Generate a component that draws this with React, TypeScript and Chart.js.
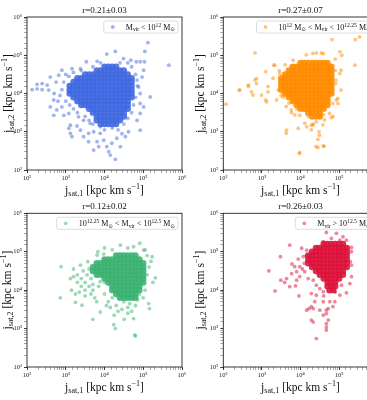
import React, { useEffect, useRef } from "react";
import { Chart, registerables } from "chart.js";

Chart.register(...registerables);

const FONT = "'Liberation Serif', 'DejaVu Serif', serif";

const axisMin = 1e2;
const axisMax = 1e6;

const panelTitles = ["r=0.21±0.03", "r=0.27±0.07", "r=0.12±0.02", "r=0.26±0.03"];
const seriesColors = ["65,105,225", "255,140,0", "60,179,113", "220,20,60"];

type Seg = [string, number]; // 0 normal, 1 superscript, -1 subscript
const legendLabels: Seg[][] = [
  [["M", 0], ["vir", -1], [" < 10", 0], ["12", 1], [" M", 0], ["⊙", -1]],
  [["10", 0], ["12", 1], [" M", 0], ["⊙", -1], [" < M", 0], ["vir", -1], [" < 10", 0], ["12.25", 1], [" M", 0], ["⊙", -1]],
  [["10", 0], ["12.25", 1], [" M", 0], ["⊙", -1], [" < M", 0], ["vir", -1], [" < 10", 0], ["12.5", 1], [" M", 0], ["⊙", -1]],
  [["M", 0], ["vir", -1], [" > 10", 0], ["12.5", 1], [" M", 0], ["⊙", -1]],
];
const xTitle: Seg[] = [["j", 0], ["sat,1", -1], [" [kpc km s", 0], ["−1", 1], ["]", 0]];
const yTitle: Seg[] = [["j", 0], ["sat,2", -1], [" [kpc km s", 0], ["−1", 1], ["]", 0]];

// ---- data (log10 of j values) ----
type Row = [number, number[]];

const blueCoreLog: Row[] = [
  [4.7, [4.0, 4.1, 4.2, 4.3]],
  [4.6, [3.8, 3.9, 4.0, 4.1, 4.2, 4.3, 4.4, 4.5]],
  [4.5, [3.5, 3.6, 3.7, 3.8, 3.9, 4.0, 4.1, 4.2, 4.3, 4.4, 4.5, 4.6]],
  [4.4, [3.3, 3.4, 3.5, 3.6, 3.7, 3.8, 3.9, 4.0, 4.1, 4.2, 4.3, 4.4, 4.5, 4.6, 4.7]],
  [4.3, [3.2, 3.3, 3.4, 3.5, 3.6, 3.7, 3.8, 3.9, 4.0, 4.1, 4.2, 4.3, 4.4, 4.5, 4.6, 4.7]],
  [4.2, [3.1, 3.2, 3.3, 3.4, 3.5, 3.6, 3.7, 3.8, 3.9, 4.0, 4.1, 4.2, 4.3, 4.4, 4.5, 4.6, 4.7]],
  [4.1, [3.1, 3.2, 3.3, 3.4, 3.5, 3.6, 3.7, 3.8, 3.9, 4.0, 4.1, 4.2, 4.3, 4.4, 4.5, 4.6, 4.7]],
  [4.0, [3.1, 3.2, 3.3, 3.4, 3.5, 3.6, 3.7, 3.8, 3.9, 4.0, 4.1, 4.2, 4.3, 4.4, 4.5, 4.6, 4.7]],
  [3.9, [3.2, 3.3, 3.4, 3.5, 3.6, 3.7, 3.8, 3.9, 4.0, 4.1, 4.2, 4.3, 4.4, 4.5, 4.6, 4.7]],
  [3.8, [3.3, 3.4, 3.5, 3.6, 3.7, 3.8, 3.9, 4.0, 4.1, 4.2, 4.3, 4.4, 4.5, 4.6]],
  [3.7, [3.4, 3.5, 3.6, 3.7, 3.8, 3.9, 4.0, 4.1, 4.2, 4.3, 4.4, 4.5, 4.6]],
  [3.6, [3.6, 3.7, 3.8, 3.9, 4.0, 4.1, 4.2, 4.3, 4.4, 4.5, 4.6]],
  [3.5, [3.7, 3.8, 3.9, 4.0, 4.1, 4.2, 4.3, 4.4, 4.5]],
  [3.4, [3.8, 3.9, 4.0, 4.1, 4.2, 4.3, 4.4, 4.5]],
  [3.3, [3.8, 3.9, 4.0, 4.1, 4.2, 4.3, 4.4]],
  [3.2, [3.9, 4.0, 4.1, 4.2, 4.3]],
];
const blueScatterLog: [number, number][] = [
  [5.12, 5.33], [5.04, 5.1], [4.28, 5.1], [4.06, 5.03], [5.66, 4.74], [4.82, 4.83], [4.92, 4.83], [5.03, 4.83],
  [4.68, 4.87], [4.49, 4.91], [3.81, 4.84], [3.53, 4.83], [3.16, 4.65], [2.9, 4.61], [2.82, 4.48], [3.38, 4.65],
  [3.08, 4.45], [2.6, 4.43], [2.52, 4.22], [2.39, 4.26], [2.26, 4.24], [2.13, 4.1], [2.26, 4.12], [2.39, 4.1],
  [2.56, 4.09], [2.69, 3.83], [2.6, 3.65], [2.69, 3.43], [2.77, 3.57], [2.95, 3.43], [2.9, 3.65], [3.08, 3.48],
  [3.12, 3.17], [3.29, 3.15], [3.08, 3.09], [3.12, 2.96], [3.16, 2.87], [3.38, 3.04], [3.46, 2.87], [3.59, 2.96],
  [3.72, 3.0], [3.81, 2.74], [3.85, 2.61], [3.98, 2.78], [4.06, 2.61], [4.15, 2.39], [4.28, 2.28], [4.19, 2.7],
  [4.32, 2.83], [4.41, 2.61], [4.54, 2.87], [4.62, 3.0], [4.92, 3.04], [4.84, 3.3], [4.92, 3.48], [5.01, 3.65],
  [4.92, 3.74], [5.18, 3.91], [4.92, 4.0], [4.88, 4.17], [4.84, 4.35], [4.97, 4.43], [5.01, 4.61], [3.89, 2.96],
  [3.89, 3.13], [3.63, 3.22], [3.46, 3.3], [3.33, 3.39], [3.72, 2.52], [4.11, 2.48], [3.59, 2.74],
  [3.0, 4.5], [2.95, 4.3], [2.9, 4.1], [2.85, 3.95], [3.0, 3.8], [3.1, 3.7], [3.2, 3.6], [3.3, 3.5],
  [3.5, 3.4], [3.6, 3.3], [3.7, 3.2], [4.5, 3.2], [4.6, 3.35], [4.7, 3.5], [4.75, 3.7], [4.8, 3.9],
  [4.85, 4.2], [4.8, 4.5], [4.7, 4.7], [4.6, 4.8], [4.4, 4.8], [3.9, 4.8], [3.7, 4.7], [3.4, 4.6],
  [3.2, 4.55], [2.75, 4.3], [2.7, 4.0], [2.8, 3.8], [4.0, 3.05], [4.2, 3.1], [4.35, 3.05], [4.45, 2.95],
];

const orangeCoreLog: Row[] = [
  [4.8, [4.0, 4.1, 4.2, 4.3, 4.4, 4.5, 4.6, 4.7]],
  [4.7, [3.8, 3.9, 4.0, 4.1, 4.2, 4.3, 4.4, 4.5, 4.6, 4.7, 4.8]],
  [4.6, [3.7, 3.8, 3.9, 4.0, 4.1, 4.2, 4.3, 4.4, 4.5, 4.6, 4.7, 4.8]],
  [4.5, [3.6, 3.7, 3.8, 3.9, 4.0, 4.1, 4.2, 4.3, 4.4, 4.5, 4.6, 4.7, 4.8]],
  [4.4, [3.5, 3.6, 3.7, 3.8, 3.9, 4.0, 4.1, 4.2, 4.3, 4.4, 4.5, 4.6, 4.7, 4.8]],
  [4.3, [3.5, 3.6, 3.7, 3.8, 3.9, 4.0, 4.1, 4.2, 4.3, 4.4, 4.5, 4.6, 4.7, 4.8]],
  [4.2, [3.5, 3.6, 3.7, 3.8, 3.9, 4.0, 4.1, 4.2, 4.3, 4.4, 4.5, 4.6, 4.7, 4.8]],
  [4.1, [3.5, 3.6, 3.7, 3.8, 3.9, 4.0, 4.1, 4.2, 4.3, 4.4, 4.5, 4.6, 4.7, 4.8]],
  [4.0, [3.6, 3.7, 3.8, 3.9, 4.0, 4.1, 4.2, 4.3, 4.4, 4.5, 4.6, 4.7, 4.8]],
  [3.9, [3.7, 3.8, 3.9, 4.0, 4.1, 4.2, 4.3, 4.4, 4.5, 4.6, 4.7]],
  [3.8, [3.8, 3.9, 4.0, 4.1, 4.2, 4.3, 4.4, 4.5, 4.6, 4.7]],
  [3.7, [3.9, 4.0, 4.1, 4.2, 4.3, 4.4, 4.5, 4.6, 4.7]],
  [3.6, [4.0, 4.1, 4.2, 4.3, 4.4, 4.5, 4.6]],
  [3.5, [4.2, 4.3, 4.4, 4.5]],
  [3.4, [4.3, 4.4, 4.5]],
];
const orangeScatterLog: [number, number][] = [
  [2.07, 3.72], [2.41, 4.09], [2.65, 4.19], [2.73, 4.04], [2.82, 4.35], [2.86, 4.39], [2.82, 5.06], [3.1, 4.57],
  [3.1, 3.83], [3.16, 4.04], [3.31, 4.74], [3.38, 3.83], [3.64, 3.04], [3.97, 2.43], [4.4, 2.61], [4.59, 2.63],
  [4.48, 3.0], [4.82, 5.41], [5.42, 5.41], [5.53, 5.48], [5.02, 5.09], [5.07, 5.0], [5.41, 4.74], [5.02, 4.52],
  [4.91, 4.26], [4.93, 3.83], [4.8, 3.37], [4.33, 3.2], [3.98, 3.43], [3.77, 3.5], [4.16, 3.13], [4.28, 3.17],
  [4.41, 5.06], [4.59, 5.04], [2.43, 4.09], [2.65, 4.22], [2.77, 3.96], [2.86, 4.26], [2.99, 3.96], [3.12, 3.78],
  [3.16, 4.18], [3.33, 4.74], [3.46, 4.53], [3.29, 4.4], [3.42, 4.09], [5.05, 4.61], [4.92, 4.35], [5.05, 4.09],
  [4.84, 3.74], [4.97, 3.87], [3.81, 4.87], [3.76, 4.7], [4.32, 5.05], [4.54, 5.06], [4.15, 5.01], [3.63, 2.96],
  [3.98, 2.46], [4.45, 2.59], [4.61, 2.62], [4.49, 2.91], [4.45, 2.8], [4.28, 3.05], [3.94, 3.09], [4.11, 3.22],
  [4.84, 3.4], [4.75, 3.48], [4.97, 3.74], [3.85, 3.44], [3.76, 3.57], [3.63, 3.66], [4.32, 3.18], [4.58, 3.18],
  [4.62, 3.31], [4.41, 3.26], [3.5, 3.95], [3.45, 4.6], [3.6, 4.75], [3.55, 3.9], [4.9, 4.9], [4.9, 4.6],
  [4.2, 3.4], [4.6, 3.45], [3.9, 3.6], [3.7, 3.75],
];

const greenCoreLog: Row[] = [
  [4.9, [4.3, 4.4, 4.5, 4.6, 4.7, 4.8]],
  [4.8, [4.0, 4.1, 4.2, 4.3, 4.4, 4.5, 4.6, 4.7, 4.8, 4.9]],
  [4.7, [3.8, 3.9, 4.0, 4.1, 4.2, 4.3, 4.4, 4.5, 4.6, 4.7, 4.8, 4.9, 5.0]],
  [4.6, [3.7, 3.8, 3.9, 4.0, 4.1, 4.2, 4.3, 4.4, 4.5, 4.6, 4.7, 4.8, 4.9, 5.0]],
  [4.5, [3.7, 3.8, 3.9, 4.0, 4.1, 4.2, 4.3, 4.4, 4.5, 4.6, 4.7, 4.8, 4.9, 5.0]],
  [4.4, [3.8, 3.9, 4.0, 4.1, 4.2, 4.3, 4.4, 4.5, 4.6, 4.7, 4.8, 4.9, 5.0]],
  [4.3, [4.0, 4.1, 4.2, 4.3, 4.4, 4.5, 4.6, 4.7, 4.8, 4.9, 5.0]],
  [4.2, [4.1, 4.2, 4.3, 4.4, 4.5, 4.6, 4.7, 4.8, 4.9, 5.0]],
  [4.1, [4.2, 4.3, 4.4, 4.5, 4.6, 4.7, 4.8, 4.9]],
  [4.0, [4.2, 4.3, 4.4, 4.5, 4.6, 4.7, 4.8, 4.9]],
  [3.9, [4.3, 4.4, 4.5, 4.6, 4.7, 4.8]],
  [3.8, [4.4, 4.5, 4.6, 4.7, 4.8]],
];
const greenScatterLog: [number, number][] = [
  [2.88, 4.61], [2.86, 3.8], [3.12, 4.3], [3.2, 4.35], [3.25, 3.68], [3.42, 3.61], [3.38, 4.65], [3.57, 4.74],
  [3.7, 3.24], [3.89, 3.43], [3.89, 4.22], [4.24, 3.1], [4.28, 3.0], [4.51, 3.24], [4.75, 3.26], [4.78, 2.83],
  [4.8, 2.81], [4.91, 5.22], [4.41, 5.17], [4.75, 5.13], [5.01, 5.04], [5.23, 4.87], [5.31, 4.32], [5.14, 3.65],
  [5.16, 3.52], [3.83, 5.0], [3.81, 4.91], [3.98, 4.94],
  [3.3, 4.4], [3.4, 4.3], [3.45, 4.5], [3.5, 4.2], [3.55, 4.4], [3.6, 4.55], [3.6, 4.1], [3.5, 4.0],
  [3.4, 4.1], [3.3, 4.2], [3.2, 4.55], [3.15, 4.0], [3.25, 3.9], [3.35, 3.95], [3.5, 3.85], [3.65, 3.9],
  [3.7, 4.0], [3.75, 3.8], [3.8, 3.7], [4.2, 3.8], [4.1, 3.7], [4.15, 3.55], [4.3, 3.6], [4.35, 3.45],
  [4.45, 3.5], [4.5, 3.7], [4.6, 3.55], [4.65, 3.65], [4.7, 3.45], [4.8, 3.6], [4.85, 3.75], [4.9, 3.9],
  [5.0, 3.8], [5.05, 4.0], [4.0, 3.9], [4.05, 3.6], [4.25, 3.35], [4.6, 3.4], [5.1, 4.4], [5.15, 4.6],
  [5.2, 4.75], [5.1, 4.9], [5.05, 5.05], [4.6, 5.1], [4.2, 5.05], [4.0, 5.1], [5.25, 4.2], [3.65, 4.3],
  [3.7, 4.15], [3.85, 4.1], [4.0, 4.2],
];

const redCoreLog: Row[] = [
  [5.2, [4.6, 4.7, 4.8, 4.9, 5.0, 5.1]],
  [5.1, [4.4, 4.5, 4.6, 4.7, 4.8, 4.9, 5.0, 5.1, 5.2]],
  [5.0, [4.3, 4.4, 4.5, 4.6, 4.7, 4.8, 4.9, 5.0, 5.1, 5.2]],
  [4.9, [4.2, 4.3, 4.4, 4.5, 4.6, 4.7, 4.8, 4.9, 5.0, 5.1, 5.2]],
  [4.8, [4.2, 4.3, 4.4, 4.5, 4.6, 4.7, 4.8, 4.9, 5.0, 5.1, 5.2]],
  [4.7, [4.2, 4.3, 4.4, 4.5, 4.6, 4.7, 4.8, 4.9, 5.0, 5.1, 5.2]],
  [4.6, [4.3, 4.4, 4.5, 4.6, 4.7, 4.8, 4.9, 5.0, 5.1, 5.2]],
  [4.5, [4.4, 4.5, 4.6, 4.7, 4.8, 4.9, 5.0, 5.1]],
  [4.4, [4.5, 4.6, 4.7, 4.8, 4.9, 5.0, 5.1]],
  [4.3, [4.6, 4.7, 4.8, 4.9, 5.0]],
  [4.2, [4.7, 4.8, 4.9]],
  [4.1, [4.7, 4.8, 4.9]],
  [4.0, [4.75, 4.85]],
];
const redScatterLog: [number, number][] = [
  [3.18, 4.5], [3.34, 3.98], [3.48, 4.87], [3.72, 5.17], [3.78, 4.68], [3.49, 4.26], [3.59, 4.2], [3.87, 4.11],
  [3.96, 3.85], [4.22, 3.52], [4.28, 3.57], [4.37, 3.7], [4.28, 3.22], [4.41, 2.74], [4.67, 5.5], [4.93, 5.48],
  [5.02, 5.3], [5.19, 5.3], [5.32, 5.11], [5.29, 4.74], [5.32, 4.35], [5.19, 3.93], [4.67, 3.48], [4.67, 3.39],
  [4.67, 3.13], [4.67, 3.04], [4.67, 2.96], [3.9, 4.48], [3.98, 4.35], [3.94, 4.81], [4.03, 5.09], [4.07, 4.87],
  [4.16, 5.04], [3.85, 4.61], [3.98, 4.61], [4.11, 4.48], [4.2, 4.3], [4.33, 4.26], [4.41, 4.13], [4.5, 4.04],
  [4.59, 3.96], [4.41, 3.87], [4.28, 3.91], [4.59, 3.7], [4.76, 3.7], [4.89, 3.7], [5.02, 3.87], [5.06, 4.13],
  [5.28, 4.17], [5.32, 4.65], [5.32, 5.0], [5.1, 5.39], [4.8, 5.35], [4.59, 5.26], [4.28, 4.96], [4.72, 3.52],
  [4.84, 3.57], [4.5, 3.48], [4.33, 3.52], [4.16, 3.48], [4.59, 3.35], [4.72, 3.22], [4.33, 3.17], [3.72, 4.09],
  [3.64, 4.3], [3.9, 4.26], [3.77, 4.43], [4.1, 4.7], [4.05, 4.55], [4.15, 4.9], [4.6, 3.85], [4.9, 3.95],
];

// ---- drawing helpers ----
const SUP: Record<string, string> = { "0": "⁰", "1": "¹", "2": "²", "3": "³", "4": "⁴", "5": "⁵", "6": "⁶", "7": "⁷", "8": "⁸", "9": "⁹" };

function segFont(size: number, s: number) {
  return `${s === 0 ? size : size * 0.7}px ${FONT}`;
}
function richWidth(ctx: CanvasRenderingContext2D, segs: Seg[], size: number) {
  let w = 0;
  for (const [t, s] of segs) {
    ctx.font = segFont(size, s);
    w += ctx.measureText(t).width;
  }
  return w;
}
function drawRich(ctx: CanvasRenderingContext2D, segs: Seg[], x: number, y: number, size: number, align: "left" | "center", color = "#111") {
  const w = richWidth(ctx, segs, size);
  let cx = align === "center" ? x - w / 2 : x;
  ctx.fillStyle = color;
  ctx.textAlign = "left";
  ctx.textBaseline = "alphabetic";
  for (const [t, s] of segs) {
    ctx.font = segFont(size, s);
    const dy = s === 1 ? -size * 0.38 : s === -1 ? size * 0.2 : 0;
    ctx.fillText(t, cx, y + dy);
    cx += ctx.measureText(t).width;
  }
}

const decorPlugin = {
  id: "decor",
  afterDraw(chart: any, _args: any, opts: any) {
    const ctx: CanvasRenderingContext2D = chart.ctx;
    const a = chart.chartArea;
    ctx.save();
    // legend box
    const fs = 8;
    const tw = richWidth(ctx, opts.legend, fs);
    const right = a.right - 4;
    const top = a.top + 4;
    const h = 12;
    const w = tw + 25;
    const left = right - w;
    ctx.beginPath();
    (ctx as any).roundRect(left, top, w, h, 2);
    ctx.fillStyle = "rgba(255,255,255,0.85)";
    ctx.fill();
    ctx.strokeStyle = "#d4d4d4";
    ctx.lineWidth = 0.8;
    ctx.stroke();
    ctx.beginPath();
    ctx.arc(left + 9, top + h / 2, 1.9, 0, Math.PI * 2);
    ctx.fillStyle = `rgba(${opts.color},0.5)`;
    ctx.fill();
    drawRich(ctx, opts.legend, left + 22, top + h / 2 + 2.7, fs, "left");
    // frame
    ctx.strokeStyle = "#222";
    ctx.lineWidth = 0.9;
    ctx.strokeRect(a.left, a.top, a.right - a.left, a.bottom - a.top);
    // title
    drawRich(ctx, [[opts.title, 0]], (a.left + a.right) / 2, a.top - 4, 9, "center");
    // x axis title
    drawRich(ctx, xTitle, (a.left + a.right) / 2, a.bottom + 23.5, 11.5, "center");
    // y axis title
    ctx.translate(a.left - opts.yGap, (a.top + a.bottom) / 2);
    ctx.rotate(-Math.PI / 2);
    drawRich(ctx, yTitle, 0, 3.5, 11.5, "center");
    ctx.restore();
  },
};

function toPoints(core: Row[], scatter: [number, number][]) {
  const corePts: { x: number; y: number }[] = [];
  for (const [ly, xs] of core) for (const lx of xs) corePts.push({ x: 10 ** lx, y: 10 ** ly });
  const outPts = scatter.map(([lx, ly]) => ({ x: 10 ** lx, y: 10 ** ly }));
  return { corePts, outPts };
}

const panelData = [
  toPoints(blueCoreLog, blueScatterLog),
  toPoints(orangeCoreLog, orangeScatterLog),
  toPoints(greenCoreLog, greenScatterLog),
  toPoints(redCoreLog, redScatterLog),
];

const isPow10 = (v: number) => {
  const e = Math.log10(v);
  return Math.abs(e - Math.round(e)) < 1e-6;
};
const tickLabel = (v: any) => {
  const n = Number(v);
  if (!isPow10(n)) return "";
  const e = String(Math.round(Math.log10(n)));
  return "10" + e.split("").map((c) => SUP[c]).join("");
};

type Layout = { left: number; top: number; w: number; h: number; yW: number; xH: number; padTop: number; padRight: number; yGap: number };
const layouts: Layout[] = [
  { left: 0, top: 0, w: 190, h: 198, yW: 27, xH: 28, padTop: 17, padRight: 8, yGap: 18.7 },
  { left: 190, top: 0, w: 196, h: 198, yW: 33.3, xH: 28, padTop: 17, padRight: 8.3, yGap: 23.3 },
  { left: 0, top: 196, w: 190, h: 204, yW: 27, xH: 33, padTop: 17.3, padRight: 8, yGap: 19.7 },
  { left: 190, top: 196, w: 196, h: 204, yW: 33.3, xH: 33, padTop: 17.3, padRight: 8.3, yGap: 23.3 },
];

function axis(which: "x" | "y", size: number) {
  return {
    type: "logarithmic" as const,
    min: axisMin,
    max: axisMax,
    offset: false,
    afterFit(scale: any) {
      if (which === "x") scale.height = size;
      else scale.width = size;
    },
    border: { display: false },
    grid: {
      drawOnChartArea: false,
      drawTicks: true,
      tickLength: 3,
      color: (c: any) => (c.tick && isPow10(c.tick.value) ? "#222" : "#555"),
      lineWidth: (c: any) => (c.tick && isPow10(c.tick.value) ? 0.9 : 0.5),
    },
    ticks: {
      autoSkip: false,
      maxRotation: 0,
      minRotation: 0,
      padding: which === "x" ? 1 : 2,
      color: "#222",
      font: { family: FONT, size: 6.5 },
      callback: tickLabel,
    },
  };
}

function Panel({ i }: { i: number }) {
  const ref = useRef<HTMLCanvasElement>(null);
  const L = layouts[i];
  useEffect(() => {
    const { corePts, outPts } = panelData[i];
    const color = seriesColors[i];
    const chart = new Chart(ref.current!, {
      type: "scatter",
      data: {
        datasets: [
          { data: corePts, backgroundColor: `rgba(${color},0.9)`, pointRadius: 3.2, borderWidth: 0, pointHoverRadius: 3.2 },
          { data: outPts, backgroundColor: `rgba(${color},0.5)`, pointRadius: 1.9, borderWidth: 0, pointHoverRadius: 1.9 },
        ],
      },
      options: {
        responsive: false,
        animation: false,
        devicePixelRatio: 1,
        events: [],
        layout: { padding: { top: L.padTop, right: L.padRight, left: 0, bottom: 0 } },
        plugins: {
          legend: { display: false },
          tooltip: { enabled: false },
          decor: { title: panelTitles[i], legend: legendLabels[i], color, yGap: L.yGap },
        } as any,
        scales: { x: axis("x", L.xH) as any, y: axis("y", L.yW) as any },
      },
      plugins: [decorPlugin as any],
    });
    return () => chart.destroy();
  }, []);
  return (
    <canvas
      ref={ref}
      width={L.w}
      height={L.h}
      style={{ position: "absolute", left: L.left, top: L.top, width: L.w, height: L.h }}
    />
  );
}

export default function App() {
  return (
    <div style={{ position: "fixed", left: 0, top: 0, width: 367, height: 400, overflow: "hidden", background: "#fff" }}>
      {[0, 1, 2, 3].map((i) => (
        <Panel key={i} i={i} />
      ))}
    </div>
  );
}
